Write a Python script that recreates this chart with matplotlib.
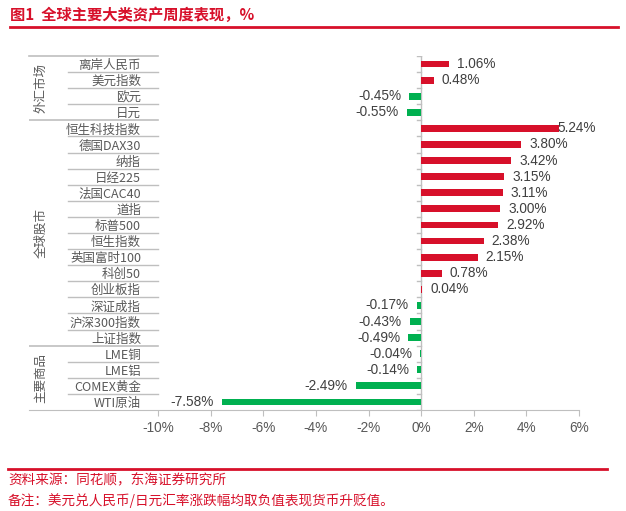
import numpy as np
import matplotlib.pyplot as plt
from matplotlib.lines import Line2D

plt.rcParams['font.family'] = ['Noto Sans CJK SC', 'DejaVu Sans']

# 数据
categories = ['离岸人民币', '美元指数', '欧元', '日元',
              '恒生科技指数', '德国DAX30', '纳指', '日经225', '法国CAC40', '道指',
              '标普500', '恒生指数', '英国富时100', '科创50', '创业板指', '深证成指',
              '沪深300指数', '上证指数',
              'LME铜', 'LME铝', 'COMEX黄金', 'WTI原油']
values = [1.06, 0.48, -0.45, -0.55,
          5.24, 3.80, 3.42, 3.15, 3.11, 3.00, 2.92, 2.38, 2.15, 0.78, 0.04, -0.17,
          -0.43, -0.49,
          -0.04, -0.14, -2.49, -7.58]
groups = ['外汇市场', '全球股市', '主要商品']
group_sizes = [4, 14, 4]
xticks = [-10, -8, -6, -4, -2, 0, 2, 4, 6]

RED = '#D7102A'
GREEN = '#00B050'
GRAY = '#595959'
LINE = '#BFBFBF'

W, H = 626, 511
fig = plt.figure(figsize=(W / 100, H / 100), dpi=100)

# 轴区域（像素换算）
x0, x1, y0, y1 = 29, 579, 56, 410
ax = fig.add_axes([x0 / W, 1 - y1 / H, (x1 - x0) / W, (y1 - y0) / H])

px = (579 - 158) / 16.0
xmin = -10 - (158 - x0) / px
ax.set_xlim(xmin, 6)
n = len(categories)
y = np.arange(n)
ax.set_ylim(n - 0.5, -0.5)

colors = [RED if v >= 0 else GREEN for v in values]
ax.barh(y, values, height=0.42, color=colors, zorder=3)

gap = 8 / px
xmax_lab = (557 - 421) / px  # 标签超出绘图区时向内收
for yi, v in zip(y, values):
    if v >= 0:
        ax.text(min(v + gap, xmax_lab), yi, f'{v:.2f}%', va='center', ha='left',
                fontsize=9.8, color='#404040', zorder=4,
                family=['Liberation Sans', 'DejaVu Sans'])
    else:
        ax.text(v - gap, yi, f'{v:.2f}%', va='center', ha='right', fontsize=9.8,
                color='#404040', family=['Liberation Sans', 'DejaVu Sans'])

# 坐标轴样式
for s in ['top', 'right', 'left']:
    ax.spines[s].set_visible(False)
ax.spines['bottom'].set_color(LINE)
ax.set_yticks([])
ax.set_xticks(xticks)
ax.set_xticklabels([f'{t}%' for t in xticks], fontsize=9.8, color=GRAY,
                   family=['Liberation Sans', 'DejaVu Sans'])
ax.tick_params(axis='x', length=4, color=LINE, pad=4)

# 零线及刻度
ax.axvline(0, color=LINE, lw=1, zorder=2)
tick_len = 4 / px
for b in np.arange(n + 1) - 0.5:
    ax.plot([-tick_len, 0], [b, b], color=LINE, lw=1, zorder=2)

# 左侧表格
lab_x = -10 - (158 - 141) / px
sep_x = -10 - (158 - 68) / px
for yi, c in zip(y, categories):
    ax.text(lab_x, yi + 0.1, c, ha='right', va='center', fontsize=9, color=GRAY)

ax.plot([xmin, -10], [-0.5, -0.5], color=LINE, lw=1.2, clip_on=False)
bounds = np.cumsum(group_sizes) - 0.5
start = -0.5
for g, size, b in zip(groups, group_sizes, bounds):
    for k in range(int(start + 0.5), int(b + 0.5)):
        if k + 0.5 != b:
            ax.plot([sep_x, -10], [k + 0.5, k + 0.5], color=LINE, lw=1)
    if b < n - 0.5:
        ax.plot([xmin, -10], [b, b], color=LINE, lw=1.2)
    ax.text(xmin + 12 / px, (start + b) / 2, g, rotation=90, ha='center',
            va='center', fontsize=9, color=GRAY)
    start = b

# 标题与注释
fig.text(10 / W, 1 - 15 / H, '图1  全球主要大类资产周度表现，%', fontsize=11,
         fontweight='bold', color=RED, va='center', ha='left')
fig.add_artist(Line2D([10 / W, 618 / W], [1 - 27 / H, 1 - 27 / H], color=RED, lw=2))
fig.add_artist(Line2D([8 / W, 607 / W], [1 - 469 / H, 1 - 469 / H], color=RED, lw=2))
fig.text(8 / W, 1 - 480 / H, '资料来源：同花顺，东海证券研究所', fontsize=9.8,
         color=RED, va='center', ha='left')
fig.text(8 / W, 1 - 501 / H, '备注：美元兑人民币/日元汇率涨跌幅均取负值表现货币升贬值。',
         fontsize=9.8, color=RED, va='center', ha='left')

fig.savefig('out.png', dpi=100)
